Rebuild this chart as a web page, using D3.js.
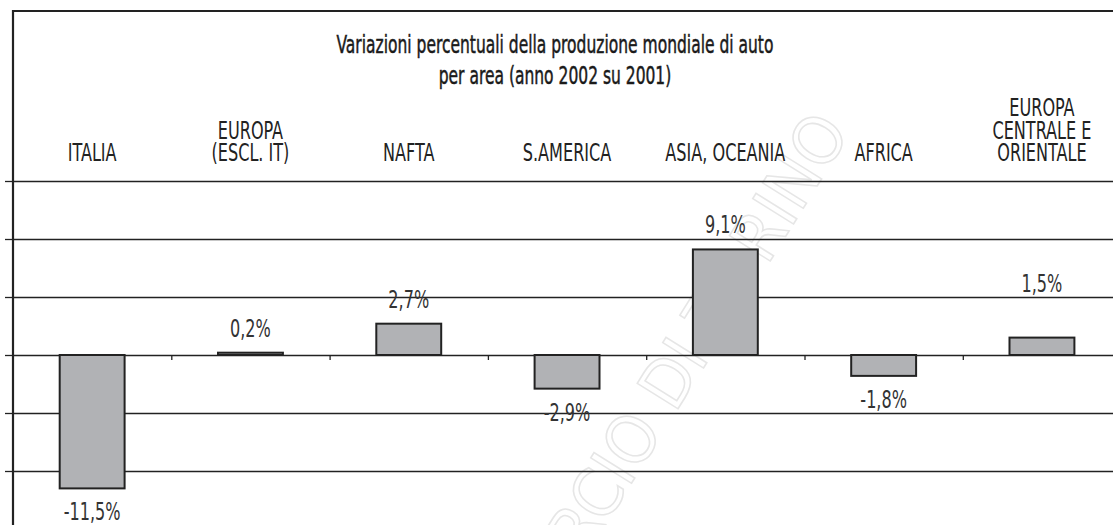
<!DOCTYPE html>
<html>
<head>
<meta charset="utf-8">
<script src="https://cdn.jsdelivr.net/npm/d3@7"></script>
<style>
  html, body { margin: 0; padding: 0; background: #fff; }
  svg { display: block; }
  text { font-family: "Liberation Sans Narrow", "DejaVu Sans Condensed", "Roboto Condensed", sans-serif; }
</style>
</head>
<body>
<svg id="chart" width="1113" height="525"></svg>
<script>
// ---- data ----
const titleLines = ["Variazioni percentuali della produzione mondiale di auto", "per area (anno 2002 su 2001)"];
const categories = ["ITALIA", "EUROPA\n(ESCL. IT)", "NAFTA", "S.AMERICA", "ASIA, OCEANIA", "AFRICA", "EUROPA\nCENTRALE E\nORIENTALE"];
const values = [-11.5, 0.2, 2.7, -2.9, 9.1, -1.8, 1.5];
const yTicks = [-15, -10, -5, 0, 5, 10, 15];
const watermark = "CAMERA DI COMMERCIO DI TORINO";

(function () {
// ---- layout ----
const W = 1113, H = 525;
const mLeft = 13, mTop = 11;
const step = 158.3;
const sx = 0.745; // horizontal condensing of the font

const svg = d3.select("#chart");
const it = d3.formatLocale({decimal: ",", thousands: ".", grouping: [3], currency: ["", "€"], minus: "-"});
const fmt = v => it.format(".1f")(v) + "%";

const x = d3.scaleBand().domain(categories).range([mLeft, mLeft + step * categories.length]).padding(0);
const xEdge = d3.scaleLinear().domain([0, categories.length]).range([mLeft, mLeft + step * categories.length]);
const y = d3.scaleLinear().domain([-15, 15]).range([529, 181]);
const barW = x.bandwidth() * 0.41;

// watermark (behind)
svg.append("text")
  .attr("transform", "translate(851,132) rotate(-58) scale(0.95,1)")
  .attr("text-anchor", "end")
  .attr("font-size", 66)
  .attr("fill", "none")
  .attr("stroke", "#e6e6e6")
  .attr("stroke-width", 1.6)
  .style("font-family", "'DejaVu Sans', sans-serif")
  .text(watermark);

// gridlines
svg.append("g")
  .attr("transform", `translate(${mLeft},0)`)
  .call(d3.axisRight(y).tickValues(yTicks).tickSize(W - mLeft).tickFormat(""))
  .call(g => g.select(".domain").remove())
  .call(g => g.selectAll("line").attr("stroke", "#222").attr("stroke-width", 1.3));

// left small ticks
svg.append("g")
  .attr("transform", `translate(${mLeft},0)`)
  .call(d3.axisLeft(y).tickValues(yTicks).tickSize(8).tickFormat(""))
  .call(g => g.select(".domain").remove())
  .call(g => g.selectAll("line").attr("stroke", "#222").attr("stroke-width", 1.3));

// category boundary ticks on zero line
svg.append("g")
  .attr("transform", `translate(0,${y(0)})`)
  .call(d3.axisBottom(xEdge).tickValues(d3.range(1, categories.length)).tickSize(5).tickFormat(""))
  .call(g => g.select(".domain").remove())
  .call(g => g.selectAll("line").attr("stroke", "#222").attr("stroke-width", 1.3));

// borders
svg.append("line").attr("x1", mLeft).attr("x2", W).attr("y1", mTop).attr("y2", mTop)
  .attr("stroke", "#222").attr("stroke-width", 2.2);
svg.append("line").attr("x1", mLeft).attr("x2", mLeft).attr("y1", mTop - 1).attr("y2", H)
  .attr("stroke", "#222").attr("stroke-width", 2.2);

// bars
svg.append("g").selectAll("rect")
  .data(categories.map((c, i) => ({c, v: values[i]})))
  .join("rect")
  .attr("x", d => x(d.c) + (x.bandwidth() - barW) / 2)
  .attr("y", d => y(Math.max(0, d.v)))
  .attr("width", barW)
  .attr("height", d => Math.abs(y(d.v) - y(0)))
  .attr("fill", "#b1b2b5")
  .attr("stroke", "#222")
  .attr("stroke-width", 2);

// value labels
const labelNudge = {"EUROPA\nCENTRALE E\nORIENTALE": -30};
svg.append("g").selectAll("text")
  .data(categories.map((c, i) => ({c, v: values[i]})))
  .join("text")
  .attr("transform", d => {
    const cx = x(d.c) + x.bandwidth() / 2;
    const by = (d.v >= 0 ? y(d.v) - 16 : y(d.v) + 32) + (labelNudge[d.c] || 0);
    return `translate(${cx},${by}) scale(${sx},1)`;
  })
  .attr("text-anchor", "middle")
  .attr("font-size", 24)
  .attr("fill", "#333")
  .text(d => fmt(d.v));

// category labels
const catG = svg.append("g");
categories.forEach(c => {
  const lines = c.split("\n");
  lines.forEach((ln, j) => {
    catG.append("text")
      .attr("transform", `translate(${x(c) + x.bandwidth() / 2},${161 - (lines.length - 1 - j) * 22.5}) scale(${sx},1)`)
      .attr("text-anchor", "middle")
      .attr("font-size", 24)
      .attr("fill", "#222")
      .text(ln);
  });
});

// title
titleLines.forEach((t, i) => {
  svg.append("text")
    .attr("transform", `translate(555,${53 + i * 31}) scale(0.69,1)`)
    .attr("text-anchor", "middle")
    .attr("font-size", 25)
    .attr("fill", "#1a1a1a")
    .attr("stroke", "#1a1a1a")
    .attr("stroke-width", 0.5)
    .text(t);
});
})();
</script>
</body>
</html>
